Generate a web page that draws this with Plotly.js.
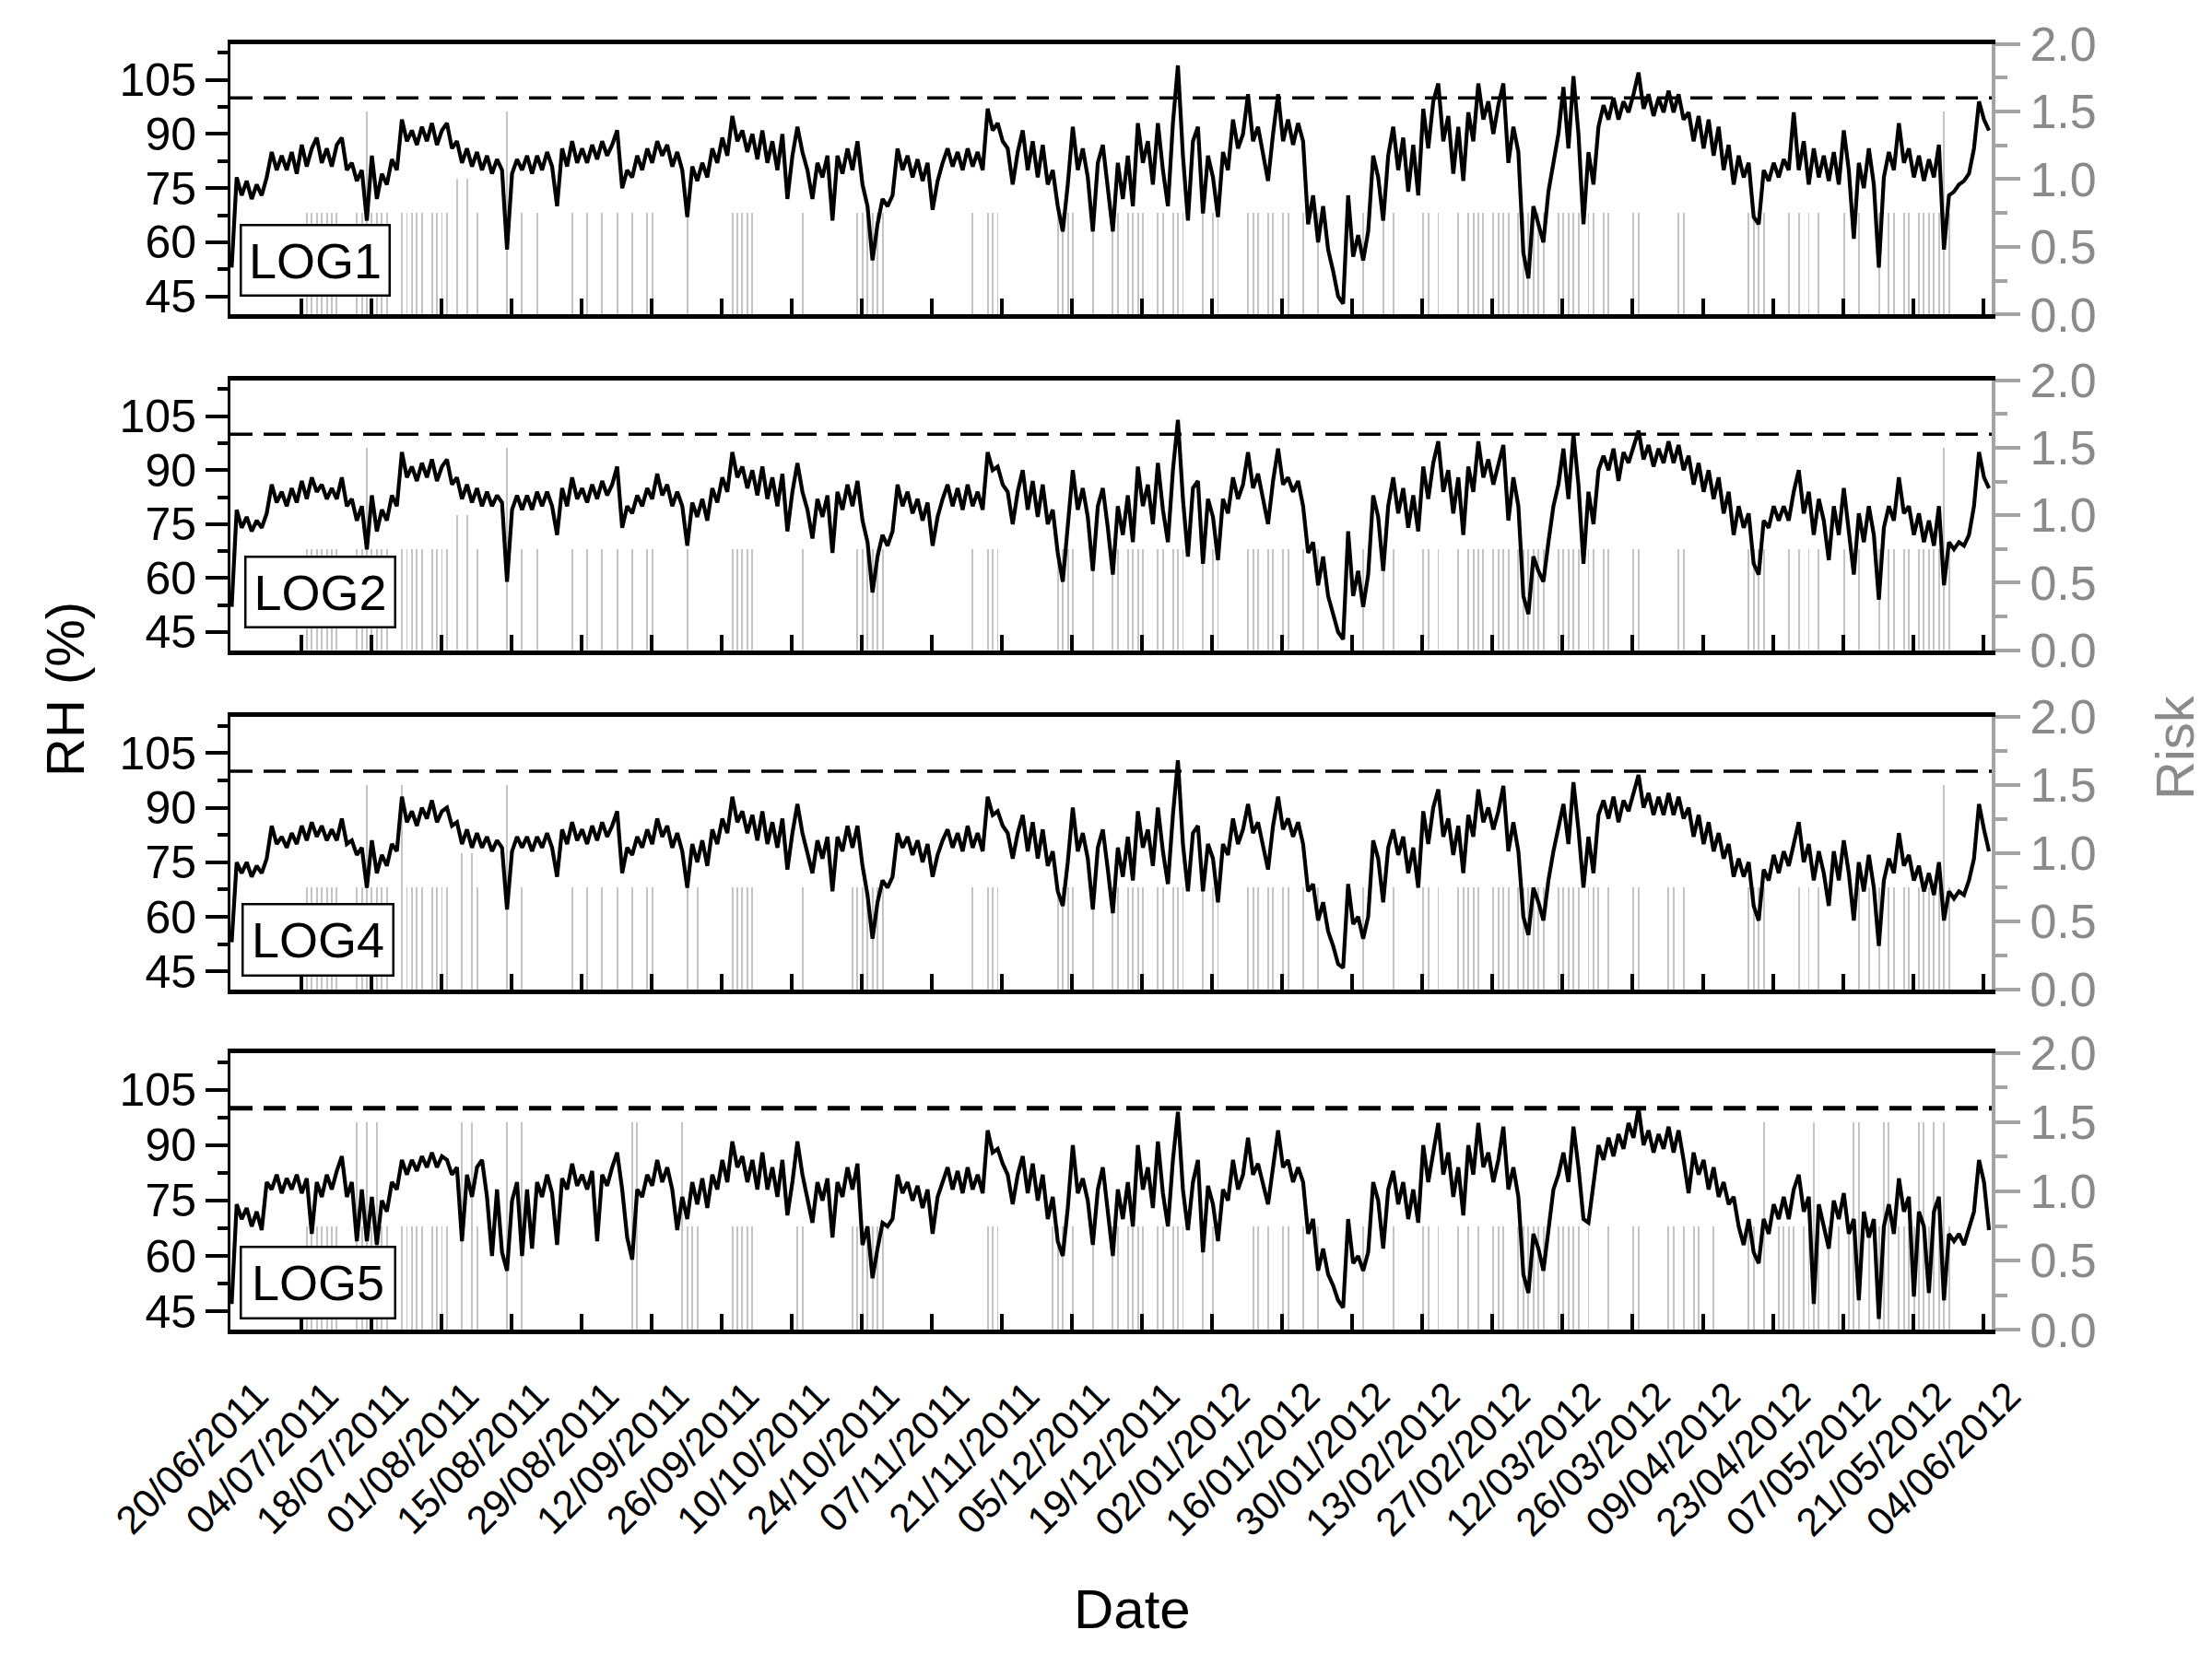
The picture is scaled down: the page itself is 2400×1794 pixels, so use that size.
<!DOCTYPE html>
<html><head><meta charset="utf-8">
<script src="https://cdn.plot.ly/plotly-3.0.1.min.js"></script>
<style>html,body{margin:0;padding:0;background:#fff}</style>
</head><body><div id="chart" style="width:2400px;height:1794px"></div>
<script>
// ---------------- DATA ----------------
const loggerNames = ['LOG1', 'LOG2', 'LOG4', 'LOG5'];
const tickDates = ['2011-06-20','2011-07-04','2011-07-18','2011-08-01','2011-08-15','2011-08-29','2011-09-12','2011-09-26','2011-10-10','2011-10-24','2011-11-07','2011-11-21','2011-12-05','2011-12-19','2012-01-02','2012-01-16','2012-01-30','2012-02-13','2012-02-27','2012-03-12','2012-03-26','2012-04-09','2012-04-23','2012-05-07','2012-05-21','2012-06-04'];
const tickLabels = ['20/06/2011','04/07/2011','18/07/2011','01/08/2011','15/08/2011','29/08/2011','12/09/2011','26/09/2011','10/10/2011','24/10/2011','07/11/2011','21/11/2011','05/12/2011','19/12/2011','02/01/2012','16/01/2012','30/01/2012','13/02/2012','27/02/2012','12/03/2012','26/03/2012','09/04/2012','23/04/2012','07/05/2012','21/05/2012','04/06/2012'];
const rhThreshold = 100;
const riskLevels = [0.75, 1.0, 1.5];

// daily RH readings (%), one value per day from 20/06/2011
const rhLog1 = [
53,78,73,77,72,76,73,78,85,80, 84,80,85,79,87,81,86,89,82,86, 81,87,89,80,82,77,80,66,84,72,
79,76,83,80,94,88,91,87,92,88, 93,87,91,93,86,88,82,86,81,85, 80,84,79,83,80,58,79,83,80,84,
79,84,80,85,81,70,86,81,88,82, 86,82,87,83,88,84,87,91,75,80, 78,84,80,86,82,88,84,87,81,85,
80,67,81,77,82,78,86,82,89,84, 95,88,91,85,90,83,91,82,88,80, 90,72,84,92,85,80,72,82,78,84,
66,84,79,86,80,88,76,70,55,65, 72,70,73,86,80,84,78,83,77,82, 69,77,82,86,81,85,80,86,81,85,
80,97,91,93,88,86,76,85,91,80, 88,78,87,76,80,70,63,76,92,80, 86,78,63,82,87,75,63,82,72,84,
70,93,82,88,76,93,80,70,93,109, 84,66,88,92,68,84,78,67,85,80, 94,86,90,101,88,92,85,77,90,101,
88,94,87,93,88,65,73,60,70,58, 52,45,43,73,56,62,55,63,84,78, 66,84,92,80,89,74,87,73,97,86,
99,104,88,95,79,92,77,96,88,104, 94,99,90,98,104,82,92,85,57,50, 70,65,60,74,82,90,103,86,106,90,
65,85,76,92,98,94,100,94,99,96, 101,107,97,101,95,100,96,102,96,101, 94,96,88,95,86,94,84,92,80,87,
76,84,78,82,67,65,80,77,82,78, 83,80,96,80,88,76,86,78,84,77, 85,76,91,80,61,82,75,86,76,53,
78,85,80,93,82,86,78,84,77,83, 78,87,58,73,74,76,77,79,86,99, 94,91];

const rhLog2 = [
52,79,74,77,73,76,74,78,86,81, 84,80,85,81,87,82,88,84,86,82, 85,82,88,80,82,76,80,68,83,73,
79,76,83,80,95,88,91,87,92,88, 93,87,91,93,86,88,82,86,81,85, 80,84,80,83,81,59,79,83,79,83,
79,84,80,84,80,72,85,80,88,82, 85,81,86,82,87,83,86,91,74,80, 78,83,80,85,82,89,83,86,80,84,
80,69,81,77,82,76,85,81,88,84, 95,88,91,85,90,83,91,82,88,80, 89,73,84,92,84,79,71,82,77,83,
67,84,79,86,80,87,76,70,56,66, 72,69,73,86,80,84,78,82,76,81, 69,77,82,86,80,85,79,86,80,84,
79,95,90,91,86,84,75,84,90,79, 87,77,86,75,79,67,59,76,90,79, 85,77,62,80,85,74,61,80,72,83,
70,91,80,86,75,92,79,70,90,104, 82,66,85,87,64,82,77,65,82,78, 88,82,86,95,85,89,82,75,87,96,
86,88,84,87,80,67,70,58,66,55, 50,45,43,73,55,62,52,61,83,77, 62,80,88,78,85,74,83,73,91,82,
92,98,84,90,78,88,72,91,84,98, 88,93,86,92,97,76,88,80,55,50, 66,62,59,70,80,86,96,82,100,86,
64,84,75,90,94,90,96,87,95,92, 97,101,93,97,91,96,92,98,92,97, 90,94,86,92,84,90,82,88,78,84,
72,80,74,78,64,61,76,74,80,76, 80,76,84,90,78,84,72,82,76,65, 80,72,85,74,61,78,70,80,72,54,
74,80,76,88,78,80,72,78,70,76, 69,80,58,70,68,70,69,72,80,95, 88,85];

const rhLog4 = [
53,75,72,75,71,74,72,76,85,80, 82,79,83,80,85,81,86,82,85,81, 84,81,87,80,81,77,79,68,81,72,
77,74,80,78,93,86,89,85,90,87, 92,86,89,90,85,86,80,84,79,83, 79,82,78,81,79,62,78,82,79,82,
78,82,79,83,79,71,84,80,86,81, 84,80,85,81,86,82,85,89,72,79, 77,82,79,84,80,87,82,85,79,83,
78,68,80,75,81,74,84,80,87,83, 93,86,89,83,88,81,89,80,86,79, 87,73,83,91,83,78,72,81,76,82,
67,82,78,85,79,85,74,66,54,64, 70,68,71,83,79,82,77,81,75,80, 71,77,81,84,79,83,78,85,79,83,
78,93,88,89,85,83,76,83,88,78, 86,76,84,74,78,67,63,75,90,78, 83,76,62,79,84,73,61,79,71,82,
70,89,79,84,74,90,78,69,88,103, 80,67,83,85,67,80,76,64,80,77, 87,80,84,91,83,86,80,73,85,93,
84,87,82,86,80,67,69,59,64,56, 52,47,46,69,58,60,54,60,81,76, 64,79,84,77,82,72,79,68,89,80,
90,95,82,87,77,85,72,88,82,95, 86,90,84,89,96,78,86,78,60,55, 68,64,59,70,78,84,91,80,97,84,
68,82,72,88,92,87,93,86,92,89, 94,99,90,94,88,93,88,94,88,93, 87,90,82,88,80,86,78,83,76,80,
71,76,71,75,63,59,73,70,77,72, 78,74,80,86,75,80,70,78,72,63, 78,70,81,72,59,75,67,77,68,52,
70,76,72,83,74,77,70,74,67,72, 66,75,59,67,65,67,66,70,76,91, 84,78];

const rhLog5 = [
47,74,70,73,68,72,67,80,78,82, 77,81,78,82,77,81,66,80,76,82, 78,83,87,76,80,64,78,64,76,63,
75,72,80,78,86,82,86,83,87,84, 88,84,87,86,82,84,64,82,76,84, 86,76,60,78,61,56,75,80,60,78,
62,80,76,82,77,63,81,78,85,79, 82,78,83,64,82,79,84,88,78,65, 59,78,76,82,79,86,80,84,78,67,
76,70,80,74,81,73,82,78,86,80, 91,84,87,80,86,78,88,78,84,76, 86,71,80,91,82,76,69,80,75,81,
65,80,76,84,78,85,63,68,54,62, 69,68,70,82,77,80,75,79,73,78, 66,76,80,84,78,83,77,84,78,82,
77,94,88,89,85,82,74,82,87,77, 85,75,82,70,76,64,60,73,90,77, 81,75,63,78,84,72,60,78,70,80,
68,90,78,84,73,91,77,68,86,99, 78,67,80,86,61,79,74,64,78,75, 86,78,82,92,82,85,79,74,84,94,
84,86,80,84,80,66,70,56,62,55, 52,48,46,70,58,60,56,61,80,75, 62,78,83,74,80,70,78,69,90,80,
88,96,82,88,76,84,71,90,82,96, 84,88,80,86,95,78,84,76,55,50, 66,62,56,68,78,82,88,80,95,84,
70,69,80,90,86,92,87,93,89,96, 92,100,90,94,88,93,89,95,88,94, 86,77,88,82,86,78,84,76,80,74,
76,68,63,70,61,58,70,66,74,70, 76,70,78,82,72,76,47,74,68,62, 75,70,77,66,70,48,72,65,70,43,
68,74,66,81,72,76,49,72,68,50, 72,76,48,66,64,66,63,68,72,86, 80,67];

// risk bars: day numbers (from 20/06/2011) at each risk level 0.75 / 1.0 / 1.5
const riskLow1 = [15,16,17,18,19,20,21,25,26,28,29,30,31,34,35,36,37,38,40,41,42,43,49,58,61,68,71,74,77,80,83,84,91,100,101,102,103,104,114,125,126,127,128,129,130,148,151,152,153,165,166,167,168,172,176,177,179,180,181,182,185,186,188,189,190,194,196,197,203,204,205,207,208,210,211,214,217,226,230,232,238,239,241,245,247,248,249,250,252,253,254,255,257,258,259,260,261,262,265,266,267,268,269,271,272,274,275,280,281,289,290,303,304,305,306,311,313,315,317,322,325,329,331,332,334,335,337,338,339,340,341,343];
const riskMid1 = [45, 47];
const riskHigh1 = [27, 55, 342];

const riskLow2 = [15,16,17,18,19,20,21,25,26,28,29,30,31,34,35,36,37,38,40,41,42,43,49,58,61,68,71,74,77,80,83,84,91,100,101,102,103,104,114,125,126,127,128,129,130,148,151,152,153,165,166,167,168,172,176,177,179,180,181,182,185,186,188,189,190,194,196,197,203,204,205,207,208,210,211,214,217,226,230,232,238,239,241,245,247,248,249,250,252,253,254,255,257,258,259,260,261,262,265,266,267,268,269,271,272,274,275,280,281,289,290,303,304,305,306,311,313,315,317,322,325,329,331,332,334,335,337,338,339,340,341,343];
const riskMid2 = [45, 47];
const riskHigh2 = [27, 55, 342];

const riskLow4 = [15,16,17,18,19,20,21,25,26,28,29,30,31,35,36,37,38,40,41,42,43,49,58,68,71,74,77,80,83,84,91,93,100,101,102,103,104,114,124,125,126,127,128,129,130,148,151,152,153,165,166,167,168,172,176,177,179,180,181,182,185,186,188,189,190,194,196,197,203,204,205,207,208,210,211,214,217,226,232,238,239,241,245,246,247,248,249,252,253,254,255,257,258,259,260,261,262,265,266,267,268,269,271,272,273,275,280,281,287,288,290,303,304,305,306,313,315,317,325,327,329,331,332,334,335,337,338,339,340,341,343];
const riskMid4 = [46, 48];
const riskHigh4 = [27, 34, 55, 342];

const riskLow5 = [15,16,17,18,19,20,21,26,28,30,31,34,35,36,37,38,40,41,42,43,49,91,92,93,100,101,102,103,104,113,114,124,125,126,127,128,129,130,151,152,153,164,165,166,168,172,176,177,179,180,181,182,185,186,188,189,190,194,196,204,205,207,210,211,214,217,226,232,238,239,241,245,247,249,252,253,254,257,258,259,260,261,262,265,266,267,268,269,271,275,280,281,287,288,290,292,293,296,303,304,309,310,311,312,314,315,317,319,321,323,327,329,333,334,335,336,339,341,343];
const riskMid5 = [];
const riskHigh5 = [25,27,29,46,48,55,58,80,81,90,306,316,324,325,330,331,337,338,340,342];

// ---------------- BUILD ----------------
const DAY = 86400000;
const t0 = Date.UTC(2011, 5, 20, 4);
function dayStr(d) { return new Date(t0 + d * DAY).toISOString().slice(0, 16).replace('T', ' '); }

const panels = [
  {rh: rhLog1, low: riskLow1, mid: riskMid1, high: riskHigh1, dom: [0.80975, 0.97352], box: [260, 424, 243, 322], dashW: 3.5},
  {rh: rhLog2, low: riskLow2, mid: riskMid2, high: riskHigh2, dom: [0.60674, 0.76996], box: [265, 430, 603, 682], dashW: 3.5},
  {rh: rhLog4, low: riskLow4, mid: riskMid4, high: riskHigh4, dom: [0.40134, 0.56644], box: [262, 428, 980, 1060], dashW: 3.5},
  {rh: rhLog5, low: riskLow5, mid: riskMid5, high: riskHigh5, dom: [0.19548, 0.36310], box: [260, 430, 1352, 1432], dashW: 5}
];

const W = 2400, H = 1794;
const xDom = [250 / W, 2161 / W];
const xRange = ['2011-06-19 22:00', '2012-06-05 17:00'];
const FONT = 'Liberation Sans, Arial, sans-serif';
const GRAY = '#a3a3a3';
const GRAYTXT = '#8a8a8a';

const data = [];
const layout = {
  width: W, height: H, margin: {l: 0, r: 0, t: 0, b: 0},
  paper_bgcolor: '#fff', plot_bgcolor: 'rgba(0,0,0,0)',
  showlegend: false, font: {family: FONT, color: '#000'},
  bargap: 0, barmode: 'overlay',
  shapes: [], annotations: []
};

panels.forEach((p, i) => {
  const n = i + 1;
  const xs = n === 1 ? '' : String(n);
  const baseY = 2 * i + 1, overY = 2 * i + 2;
  const xName = 'x' + xs, yBase = 'y' + (baseY === 1 ? '' : baseY), yOver = 'y' + overY;

  // risk bars (base axis, drawn below)
  const bx = [], by = [];
  [[p.low, riskLevels[0]], [p.mid, riskLevels[1]], [p.high, riskLevels[2]]].forEach(([days, lvl]) => {
    days.forEach(d => { bx.push(dayStr(d)); by.push(lvl); });
  });
  data.push({type: 'bar', x: bx, y: by, xaxis: xName, yaxis: yBase, width: 0.36 * DAY,
    marker: {color: '#c4c4c4', line: {width: 0}}, hoverinfo: 'skip'});

  // RH line (overlay axis, drawn above)
  data.push({type: 'scatter', mode: 'lines', x: p.rh.map((v, k) => dayStr(k)), y: p.rh,
    xaxis: xName, yaxis: yOver, line: {color: '#000', width: 4.2}, hoverinfo: 'skip'});

  layout['xaxis' + xs] = {
    domain: xDom, anchor: yBase, type: 'date', range: xRange,
    tickvals: tickDates, ticktext: tickLabels, ticks: 'inside', ticklen: 17, tickwidth: 4, tickcolor: '#000',
    showline: true, linecolor: '#000', linewidth: 5, mirror: true,
    showticklabels: n === 4, tickangle: -45, tickfont: {size: 43, family: FONT, color: '#000'},
    ticklabelstandoff: 24, ticklabelshift: 28,
    showgrid: false, zeroline: false, fixedrange: true
  };
  layout['yaxis' + (baseY === 1 ? '' : baseY)] = {
    domain: p.dom, anchor: xName, side: 'right', range: [0, 2],
    tick0: 0, dtick: 0.5, tickformat: '.1f', ticks: 'outside', ticklen: 27, tickwidth: 4, tickcolor: GRAY,
    showline: true, linecolor: GRAY, linewidth: 4,
    tickfont: {size: 52, family: FONT, color: GRAYTXT},
    minor: {dtick: 0.25, tick0: 0, ticks: 'outside', ticklen: 13, tickwidth: 4, tickcolor: GRAY},
    showgrid: false, zeroline: false, fixedrange: true
  };
  layout['yaxis' + overY] = {
    overlaying: yBase, anchor: xName, side: 'left', range: [40, 115],
    tick0: 45, dtick: 15, ticks: 'outside', ticklen: 24, tickwidth: 4, tickcolor: '#000',
    showline: true, linecolor: '#000', linewidth: 3,
    tickfont: {size: 50, family: FONT, color: '#000'},
    minor: {dtick: 7.5, tick0: 45, ticks: 'outside', ticklen: 11, tickwidth: 4, tickcolor: '#000'},
    showgrid: false, zeroline: false, fixedrange: true
  };

  layout.shapes.push({type: 'line', xref: xName + ' domain', x0: 0, x1: 1, yref: yOver, y0: rhThreshold, y1: rhThreshold,
    line: {color: '#000', width: p.dashW, dash: '24px,12px'}, layer: 'above'});

  const b = p.box;
  layout.annotations.push({xref: 'paper', yref: 'paper', x: (b[0] + b[1]) / 2 / W, y: 1 - (b[2] + b[3]) / 2 / H,
    xanchor: 'center', yanchor: 'middle', text: loggerNames[i], showarrow: false,
    font: {size: 54, family: FONT, color: '#000'}, bgcolor: '#fff', bordercolor: '#000', borderwidth: 2.5,
    borderpad: 0, width: b[1] - b[0] - 5, height: b[3] - b[2] - 5, align: 'center', valign: 'middle'});
});

layout.annotations.push({xref: 'paper', yref: 'paper', x: 70 / W, y: 1 - 748 / H, xanchor: 'center', yanchor: 'middle',
  text: 'RH (%)', textangle: -90, showarrow: false, font: {size: 58, family: FONT, color: '#000'}});
layout.annotations.push({xref: 'paper', yref: 'paper', x: 2360 / W, y: 1 - 811 / H, xanchor: 'center', yanchor: 'middle',
  text: 'Risk', textangle: -90, showarrow: false, font: {size: 58, family: FONT, color: GRAYTXT}});
layout.annotations.push({xref: 'paper', yref: 'paper', x: 1228 / W, y: 1 - 1746 / H, xanchor: 'center', yanchor: 'middle',
  text: 'Date', showarrow: false, font: {size: 60, family: FONT, color: '#000'}});

Plotly.newPlot('chart', data, layout, {staticPlot: true, displayModeBar: false});
</script>
</body></html>
